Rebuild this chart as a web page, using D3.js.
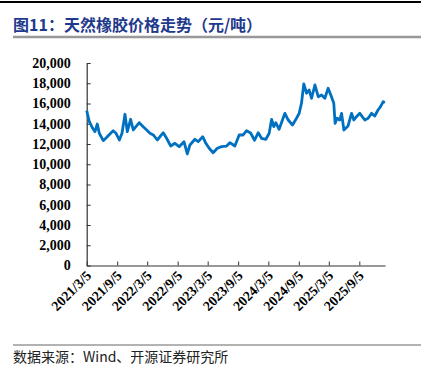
<!DOCTYPE html>
<html>
<head>
<meta charset="utf-8">
<script src="https://cdn.jsdelivr.net/npm/d3@7"></script>
<style>
  html, body { margin: 0; padding: 0; background: #fff; }
  svg { display: block; }
  .num { font-family: "Liberation Serif", "Times New Roman", serif; font-weight: bold; }
  .cjk { font-family: "Noto Sans CJK SC", "Liberation Serif", serif; }
</style>
</head>
<body>
<svg id="chart" width="432" height="371"></svg>
<script>
// Natural rubber price (yuan/ton)
const priceDates = [
  "2021-03-05", "2021-03-21", "2021-04-10", "2021-04-24", "2021-05-08", "2021-05-20",
  "2021-06-13", "2021-07-04", "2021-07-23", "2021-08-12", "2021-08-29", "2021-09-18",
  "2021-10-04", "2021-10-22", "2021-11-05", "2021-11-25", "2021-12-11", "2022-01-16",
  "2022-02-09", "2022-03-02", "2022-03-22", "2022-04-11", "2022-05-05", "2022-06-10",
  "2022-06-30", "2022-07-25", "2022-08-19", "2022-09-14", "2022-10-13", "2022-11-02",
  "2022-11-18", "2022-12-18", "2023-01-07", "2023-02-03", "2023-02-22", "2023-03-14",
  "2023-04-07", "2023-05-02", "2023-05-28", "2023-06-27", "2023-07-17", "2023-08-16",
  "2023-09-11", "2023-10-05", "2023-10-26", "2023-11-19", "2023-12-13", "2024-01-04",
  "2024-01-24", "2024-02-19", "2024-03-10", "2024-03-25", "2024-04-07", "2024-04-19",
  "2024-05-09", "2024-06-02", "2024-06-13", "2024-07-03", "2024-07-29", "2024-08-22",
  "2024-09-07", "2024-09-21", "2024-10-05", "2024-10-22", "2024-11-06", "2024-11-21",
  "2024-12-11", "2024-12-31", "2025-01-20", "2025-02-09", "2025-03-01", "2025-03-21",
  "2025-04-04", "2025-04-12", "2025-04-24", "2025-05-10", "2025-05-21", "2025-06-04",
  "2025-06-29", "2025-07-20", "2025-08-03", "2025-08-19", "2025-09-08", "2025-10-08",
  "2025-10-28", "2025-11-18", "2025-12-07", "2025-12-27", "2026-01-11", "2026-01-27",
  "2026-02-06"
];
const priceValues = [
  15300, 14200, 13550, 13215, 13975, 13060,
  12330, 12660, 12990, 13315, 13060, 12395,
  13060, 14935, 13215, 14440, 13385, 14105,
  13710, 13385, 13060, 12890, 12395, 13115,
  12565, 11800, 12070, 11735, 12230, 11015,
  11900, 12465, 12230, 12720, 12070, 11575,
  11140, 11575, 11735, 11800, 12130, 11800,
  12890, 12890, 13315, 13090, 12370, 13115,
  12565, 12465, 13060, 14440, 13710, 14105,
  13450, 14540, 15030, 14370, 13875, 14540,
  15030, 16020, 17925, 17010, 17335, 16515,
  17830, 16670, 16840, 16515, 17500, 16670,
  16020, 14045, 14540, 14370, 15030, 13385,
  13780, 15030, 14370, 14700, 15030, 14370,
  14540, 15030, 14765, 15360, 15685, 16180,
  16080
];
const yTicks = [0, 2000, 4000, 6000, 8000, 10000, 12000, 14000, 16000, 18000, 20000];
const xTickDates = ["2021-03-05", "2021-09-05", "2022-03-05", "2022-09-05", "2023-03-05",
  "2023-09-05", "2024-03-05", "2024-09-05", "2025-03-05", "2025-09-05"];
const xDomain = ["2021-03-05", "2026-02-07"];

const titleText = "图11：天然橡胶价格走势（元/吨）";
const sourceText = "数据来源：Wind、开源证券研究所";

const parse = d3.timeParse("%Y-%m-%d");
const data = priceDates.map((d, i) => ({ date: parse(d), value: priceValues[i] }));

const svg = d3.select("#chart");

// Header and footer rules
svg.append("line").attr("x1", 0).attr("x2", 421).attr("y1", 2).attr("y2", 2)
  .attr("stroke", "#000").attr("stroke-width", 2);
svg.append("line").attr("x1", 13).attr("x2", 421).attr("y1", 37).attr("y2", 37)
  .attr("stroke", "#999").attr("stroke-width", 2.5);
svg.append("line").attr("x1", 13).attr("x2", 421).attr("y1", 345).attr("y2", 345)
  .attr("stroke", "#666").attr("stroke-width", 1);

svg.append("text")
  .attr("class", "cjk")
  .attr("x", 13).attr("y", 31)
  .attr("fill", "#1f3a8c")
  .attr("font-size", 16)
  .attr("font-weight", "bold")
  .text(titleText);

svg.append("text")
  .attr("class", "cjk")
  .attr("x", 13).attr("y", 362)
  .attr("fill", "#222")
  .attr("font-size", 14)
  .text(sourceText);

// Scales
const x = d3.scaleTime()
  .domain(xDomain.map(parse))
  .range([86.7, 385]);

const y = d3.scaleLinear()
  .domain([0, 20000])
  .range([265.5, 63]);

// Axes
const yAxis = svg.append("g")
  .attr("transform", `translate(${x.range()[0]},0)`)
  .call(d3.axisLeft(y)
    .tickValues(yTicks)
    .tickSizeInner(-4)
    .tickSizeOuter(0)
    .tickPadding(16)
    .tickFormat(d3.format(",")));

const fmtDate = d => `${d.getFullYear()}/${d.getMonth() + 1}/${d.getDate()}`;

const xAxis = svg.append("g")
  .attr("transform", `translate(0,${y(0)})`)
  .call(d3.axisBottom(x)
    .tickValues(xTickDates.map(parse))
    .tickSizeInner(-4)
    .tickSizeOuter(0)
    .tickFormat(fmtDate));

[yAxis, xAxis].forEach(g => {
  g.select(".domain").attr("stroke", "#333").attr("stroke-width", 1.2);
  g.selectAll(".tick line").attr("stroke", "#333");
  g.selectAll(".tick text")
    .attr("class", "num")
    .attr("fill", "#000")
    .attr("font-size", 14);
});

xAxis.selectAll(".tick text")
  .attr("y", 0)
  .attr("dy", 0)
  .attr("text-anchor", "end")
  .attr("transform", "translate(5,11) rotate(-45)");

// Price line
const line = d3.line()
  .x(d => x(d.date))
  .y(d => y(d.value));

svg.append("path")
  .datum(data)
  .attr("fill", "none")
  .attr("stroke", "#0070c0")
  .attr("stroke-width", 2.8)
  .attr("stroke-linejoin", "round")
  .attr("d", line);
</script>
</body>
</html>
